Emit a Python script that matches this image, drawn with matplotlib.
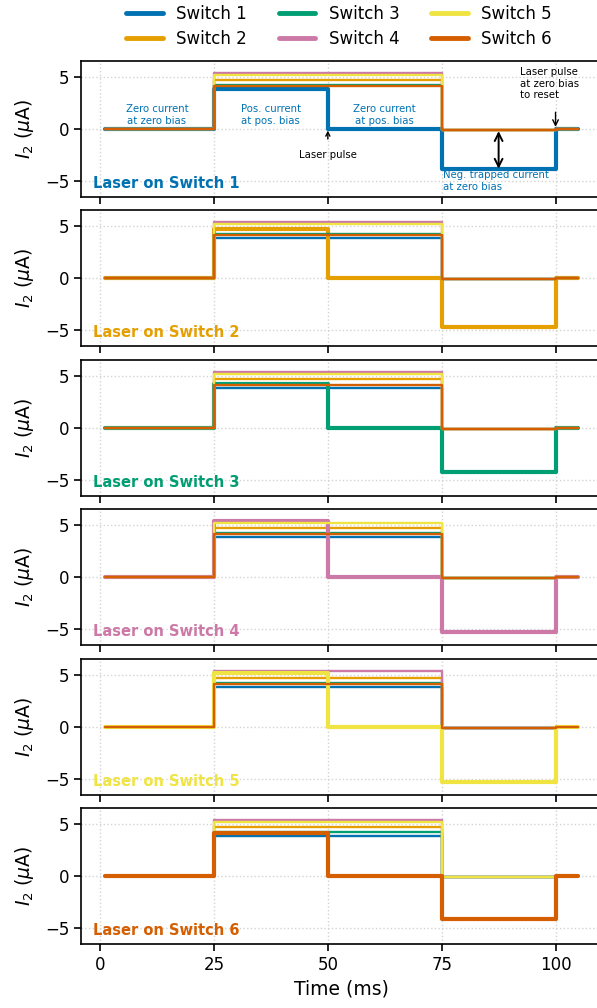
import numpy as np
import matplotlib.pyplot as plt

# step breakpoints (ms)
t_edges = [1, 25, 50, 75, 100, 105]

names = ['Switch 1', 'Switch 2', 'Switch 3', 'Switch 4', 'Switch 5', 'Switch 6']
colors = ['#0072B2', '#E69F00', '#009E73', '#CC79A7', '#F0E442', '#D55E00']

# current at positive bias per switch (uA)
pos_level = [3.8, 4.7, 4.2, 5.4, 5.2, 4.1]
# trapped negative current when the switch itself is lasered (uA)
neg_level = [-3.8, -4.7, -4.2, -5.3, -5.3, -4.1]
# residual current of the other switches after 75 ms
rest_level = -0.1

panel_tops = [61, 210, 360, 509, 659, 808]
H = 1008.0

fig = plt.figure(figsize=(5.97, 10.08), dpi=100)
axes = []
for k in range(6):
    top = panel_tops[k]
    ax = fig.add_axes([81/597, 1 - (top + 136)/H, 521/597, 136/H])
    axes.append(ax)

for k, ax in enumerate(axes):
    for j in range(6):
        if j == k:
            lev = [0, pos_level[j], 0, neg_level[j], 0]
            lw = 3.0
        else:
            lev = [0, pos_level[j], pos_level[j], rest_level, 0]
            lw = 1.7
        ax.step(t_edges, lev + [lev[-1]], where='post', color=colors[j], lw=lw,
                label=names[j], solid_joinstyle='round', solid_capstyle='round')
    ax.set_xlim(-4.2, 110.2)
    ax.set_ylim(-6.5, 6.5)
    ax.set_yticks([-5, 0, 5])
    ax.set_xticks([0, 25, 50, 75, 100])
    ax.grid(True, ls=':', color='lightgray', lw=1)
    ax.set_axisbelow(True)
    ax.tick_params(labelsize=12, length=5, width=1.2)
    for s in ax.spines.values():
        s.set_linewidth(1.2)
    ax.set_ylabel(r'$I_2$ ($\mu$A)', fontsize=13.5, labelpad=6)
    ax.text(0.023, 0.1, 'Laser on Switch %d' % (k + 1), transform=ax.transAxes,
            color=colors[k], fontsize=10.5, fontweight='bold', va='center')
    if k < 5:
        ax.tick_params(labelbottom=False)

axes[-1].set_xlabel('Time (ms)', fontsize=13.5)

ax = axes[0]
c = colors[0]
fs = 7.3
ax.text(12.5, 1.35, 'Zero current\nat zero bias', color=c, fontsize=fs, ha='center', va='center')
ax.text(37.5, 1.35, 'Pos. current\nat pos. bias', color=c, fontsize=fs, ha='center', va='center')
ax.text(62.5, 1.35, 'Zero current\nat pos. bias', color=c, fontsize=fs, ha='center', va='center')
ax.annotate('Laser pulse', xy=(50, -0.15), xytext=(50, -2.5), fontsize=fs,
            ha='center', va='center',
            arrowprops=dict(arrowstyle='->', color='k', lw=1, shrinkA=6, shrinkB=0))
ax.annotate('', xy=(87.5, -0.2), xytext=(87.5, -3.8),
            arrowprops=dict(arrowstyle='<->', color='k', lw=1.4, shrinkA=0, shrinkB=0,
                            mutation_scale=14))
ax.text(75.3, -3.95, 'Neg. trapped current\nat zero bias', color=c, fontsize=fs,
        ha='left', va='top')
ax.text(92.3, 5.9, 'Laser pulse\nat zero bias\nto reset', fontsize=fs, ha='left', va='top')
ax.annotate('', xy=(100, 0.2), xytext=(100, 1.6),
            arrowprops=dict(arrowstyle='->', color='k', lw=1, shrinkA=0, shrinkB=0))

h, l = axes[0].get_legend_handles_labels()
leg = fig.legend(h, l, ncol=3, loc='upper center', bbox_to_anchor=(0.568, 1.01),
                 frameon=False, fontsize=12, handlelength=2.2, handletextpad=0.8,
                 columnspacing=1.9, labelspacing=0.4)
for lh in leg.get_lines():
    lh.set_linewidth(3.5)

fig.savefig('out.png', dpi=100)
